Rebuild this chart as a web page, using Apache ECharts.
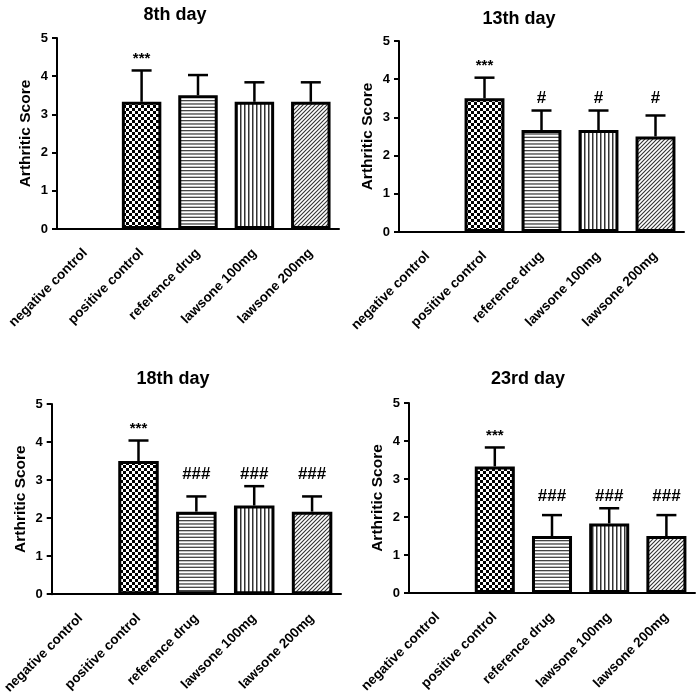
<!DOCTYPE html>
<html>
<head>
<meta charset="utf-8">
<script src="https://cdn.jsdelivr.net/npm/echarts@6/dist/echarts.min.js"></script>
<style>
  html, body { margin: 0; padding: 0; background: #fff; }
  #main { width: 699px; height: 697px; }
</style>
</head>
<body>
<div id="main"></div>
<script>
// groups and values
var categories = ['negative control', 'positive control', 'reference drug', 'lawsone 100mg', 'lawsone 200mg'];
var dayTitles = ['8th day', '13th day', '18th day', '23rd day'];

var day8Mean = [0, 3.33, 3.5, 3.33, 3.33];
var day8Err = [0, 0.82, 0.53, 0.51, 0.51];
var day8Sig = ['', '***', '', '', ''];

var day13Mean = [0, 3.5, 2.67, 2.67, 2.5];
var day13Err = [0, 0.54, 0.51, 0.51, 0.55];
var day13Sig = ['', '***', '#', '#', '#'];

var day18Mean = [0, 3.5, 2.17, 2.33, 2.17];
var day18Err = [0, 0.54, 0.4, 0.51, 0.4];
var day18Sig = ['', '***', '###', '###', '###'];

var day23Mean = [0, 3.33, 1.5, 1.83, 1.5];
var day23Err = [0, 0.5, 0.55, 0.4, 0.55];
var day23Sig = ['', '***', '###', '###', '###'];

var means = [day8Mean, day13Mean, day18Mean, day23Mean];
var errs = [day8Err, day13Err, day18Err, day23Err];
var sigs = [day8Sig, day13Sig, day18Sig, day23Sig];

// fill patterns like the GraphPad bars
function makePattern(w, h, draw) {
    var c = document.createElement('canvas');
    c.width = w;
    c.height = h;
    var ctx = c.getContext('2d');
    ctx.fillStyle = '#fff';
    ctx.fillRect(0, 0, w, h);
    draw(ctx);
    return { image: c, repeat: 'repeat' };
}

var checker = makePattern(6, 6, function (ctx) {
    ctx.fillStyle = '#000';
    ctx.fillRect(0, 0, 3, 3);
    ctx.fillRect(3, 3, 3, 3);
});
var hLines = makePattern(4, 10, function (ctx) {
    ctx.fillStyle = '#444';
    ctx.fillRect(0, 0, 4, 1.3);
    ctx.fillRect(0, 3.33, 4, 1.3);
    ctx.fillRect(0, 6.67, 4, 1.3);
});
var vLines = makePattern(4, 4, function (ctx) {
    ctx.fillStyle = '#333';
    ctx.fillRect(0, 0, 1.5, 4);
});
var dLines = makePattern(4, 4, function (ctx) {
    ctx.strokeStyle = '#333';
    ctx.lineWidth = 1.1;
    ctx.beginPath();
    ctx.moveTo(-1, 5); ctx.lineTo(5, -1);
    ctx.moveTo(-1, 1); ctx.lineTo(1, -1);
    ctx.moveTo(3, 5); ctx.lineTo(5, 3);
    ctx.stroke();
});
var fills = ['#fff', checker, hLines, vLines, dLines];

var grids = [
    { left: 57, top: 38, width: 282, height: 191 },
    { left: 399, top: 41, width: 285, height: 191 },
    { left: 50, top: 404, width: 291, height: 191 },
    { left: 409, top: 403, width: 286, height: 190 }
];
var titlePos = [
    { x: 170, y: 1 },
    { x: 514, y: 5 },
    { x: 168, y: 365 },
    { x: 523, y: 365 }
];

var fontFamily = 'Arial, "Liberation Sans", sans-serif';

var option = {
    animation: false,
    backgroundColor: '#fff',
    title: [],
    grid: grids,
    xAxis: [],
    yAxis: [],
    series: []
};

for (var p = 0; p < 4; p++) {
    option.title.push({
        text: dayTitles[p],
        left: titlePos[p].x,
        top: titlePos[p].y,
        textAlign: 'center',
        textStyle: { fontFamily: fontFamily, fontWeight: 'bold', fontSize: 18, color: '#000' }
    });
    option.xAxis.push({
        type: 'category',
        gridIndex: p,
        data: categories,
        axisLine: { lineStyle: { color: '#000', width: 2 } },
        axisTick: { alignWithLabel: true, length: 5, lineStyle: { color: '#000', width: 2 } },
        axisLabel: {
            rotate: 45,
            margin: 22,
            color: '#000',
            fontFamily: fontFamily,
            fontWeight: 'bold',
            fontSize: 13.5
        }
    });
    option.yAxis.push({
        type: 'value',
        gridIndex: p,
        min: 0,
        max: 5,
        interval: 1,
        name: 'Arthritic Score',
        nameLocation: 'middle',
        nameGap: 23,
        nameTextStyle: { fontFamily: fontFamily, fontWeight: 'bold', fontSize: 15.5, color: '#000' },
        splitLine: { show: false },
        axisLine: { show: true, lineStyle: { color: '#000', width: 2 } },
        axisTick: { show: true, length: 5, lineStyle: { color: '#000', width: 2 } },
        axisLabel: {
            margin: 9,
            color: '#000',
            fontFamily: fontFamily,
            fontWeight: 'bold',
            fontSize: 13
        }
    });

    option.series.push({
        type: 'bar',
        xAxisIndex: p,
        yAxisIndex: p,
        barWidth: '70%',
        data: means[p].map(function (v, i) {
            return {
                value: v,
                itemStyle: {
                    color: fills[i],
                    borderColor: '#000',
                    borderWidth: v > 0 ? 3 : 0
                }
            };
        }),
        silent: true
    });

    // upper error bars + significance marks
    (function (mean, err, sig) {
        var rows = mean.map(function (v, i) { return [i, v, err[i], sig[i]]; });
        option.series.push({
            type: 'custom',
            xAxisIndex: p,
            yAxisIndex: p,
            data: rows,
            z: 5,
            silent: true,
            renderItem: function (params, api) {
                var i = api.value(0);
                var m = api.value(1);
                var e = api.value(2);
                if (!e) return null;
                var base = api.coord([i, m]);
                var top = api.coord([i, m + e]);
                var children = [
                    { type: 'line', shape: { x1: base[0], y1: base[1], x2: top[0], y2: top[1] },
                      style: { stroke: '#000', lineWidth: 2.5 } },
                    { type: 'line', shape: { x1: top[0] - 10, y1: top[1], x2: top[0] + 10, y2: top[1] },
                      style: { stroke: '#000', lineWidth: 2.5 } }
                ];
                var s = sig[i];
                if (s) {
                    // marks of the same kind sit at one height above the tallest cap
                    var hi = 0;
                    for (var k = 0; k < mean.length; k++) {
                        if (sig[k] === s) hi = Math.max(hi, mean[k] + err[k]);
                    }
                    var pt = api.coord([i, hi]);
                    var isStar = s.charAt(0) === '*';
                    children.push({
                        type: 'text',
                        x: pt[0],
                        y: pt[1] - 12,
                        style: {
                            text: s,
                            align: 'center',
                            verticalAlign: 'middle',
                            fill: '#000',
                            font: 'bold ' + (isStar ? 15 : 17) + 'px ' + fontFamily
                        }
                    });
                }
                return { type: 'group', children: children };
            }
        });
    })(means[p], errs[p], sigs[p]);
}

var chart = echarts.init(document.getElementById('main'));
chart.setOption(option);
</script>
</body>
</html>
